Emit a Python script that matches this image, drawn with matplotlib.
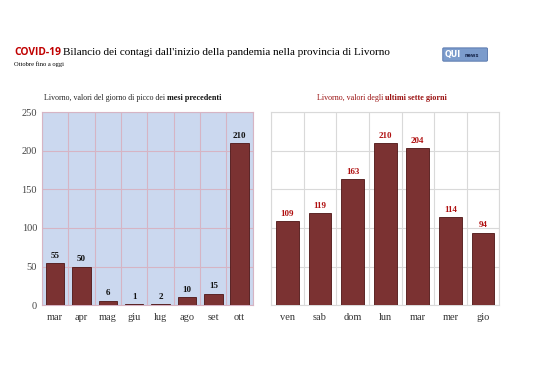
import matplotlib.pyplot as plt
import matplotlib.patches as mpatches
import numpy as np

# dati
mesi = ["mar", "apr", "mag", "giu", "lug", "ago", "set", "ott"]
picchi = [55, 50, 6, 1, 2, 10, 15, 210]
giorni = ["ven", "sab", "dom", "lun", "mar", "mer", "gio"]
ultimi = [109, 119, 163, 210, 204, 114, 94]

BAR = "#7b3232"
EDGE = "#4e1414"
SERIF = "Liberation Serif"

fig = plt.figure(figsize=(5.38, 3.80), dpi=100)
fig.patch.set_facecolor("white")


def pannello(ax, cats, vals, bg, grid_col, lab_col):
    n = len(cats)
    x = np.arange(n)
    ax.set_facecolor(bg)
    ax.bar(x, vals, width=0.7, color=BAR, edgecolor=EDGE, linewidth=0.6, zorder=3)
    ax.set_xlim(-0.5, n - 0.5)
    ax.set_ylim(0, 250)
    ax.set_yticks(range(0, 251, 50))
    ax.set_xticks(x)
    ax.set_xticks(np.arange(-0.5, n, 1), minor=True)
    ax.set_xticklabels(cats, fontfamily=SERIF, fontsize=7.5, color="#333333")
    ax.grid(True, which="minor", axis="x", color=grid_col, linewidth=0.8, zorder=1)
    ax.grid(True, which="major", axis="y", color=grid_col, linewidth=0.8, zorder=1)
    ax.tick_params(which="both", length=0)
    ax.tick_params(axis="x", pad=6)
    for s in ax.spines.values():
        s.set_color(grid_col)
        s.set_linewidth(0.8)
    for i, v in enumerate(vals):
        ax.text(i, v + 4, str(v), ha="center", va="bottom", fontfamily=SERIF,
                fontsize=6.5, fontweight="bold", color=lab_col, zorder=4)


ax1 = fig.add_axes([0.078, 0.197, 0.392, 0.508])
pannello(ax1, mesi, picchi, "#cbd8ef", "#d6b4c4", "#111111")
for lab in ax1.get_yticklabels():
    lab.set_fontfamily(SERIF)
    lab.set_fontsize(7.5)
    lab.set_color("#444444")

ax2 = fig.add_axes([0.504, 0.197, 0.424, 0.508])
pannello(ax2, giorni, ultimi, "white", "#d9d9d9", "#b01010")
ax2.set_yticklabels([])

# titoli dei pannelli (parte normale + parte in grassetto)
fig.text(0.310, 0.738, "Livorno, valori del giorno di picco dei ", ha="right",
         fontfamily=SERIF, fontsize=5.7, color="#222222")
fig.text(0.310, 0.738, "mesi precedenti", ha="left", fontfamily=SERIF,
         fontsize=5.9, fontweight="bold", color="#111111")
fig.text(0.716, 0.738, "Livorno, valori degli ", ha="right",
         fontfamily=SERIF, fontsize=5.8, color="#9a1010")
fig.text(0.716, 0.738, "ultimi sette giorni", ha="left", fontfamily=SERIF,
         fontsize=5.9, fontweight="bold", color="#9a1010")

# titolo principale
fig.text(0.026, 0.856, "COVID-19", fontfamily="Open Sans", fontsize=7.4,
         fontweight="bold", color="#c00000")
fig.text(0.118, 0.856, "Bilancio dei contagi dall'inizio della pandemia nella provincia di Livorno",
         fontfamily=SERIF, fontsize=8, color="black")
fig.text(0.026, 0.826, "Ottobre fino a oggi", fontfamily=SERIF, fontsize=4.7, color="black")

# logo
fig.patches.append(mpatches.FancyBboxPatch((0.825, 0.841), 0.079, 0.031,
                   boxstyle="round,pad=0.002", transform=fig.transFigure,
                   facecolor="#7c9ccc", edgecolor="#5070a8", linewidth=0.6))
fig.text(0.827, 0.856, "QUI", fontfamily="DejaVu Sans", fontsize=5.8,
         fontweight="bold", color="white", va="center")
fig.text(0.864, 0.853, "news", fontfamily="DejaVu Sans", fontsize=3.6,
         fontweight="bold", color="#1a2a50", va="center")

fig.savefig("out.png", dpi=100)
